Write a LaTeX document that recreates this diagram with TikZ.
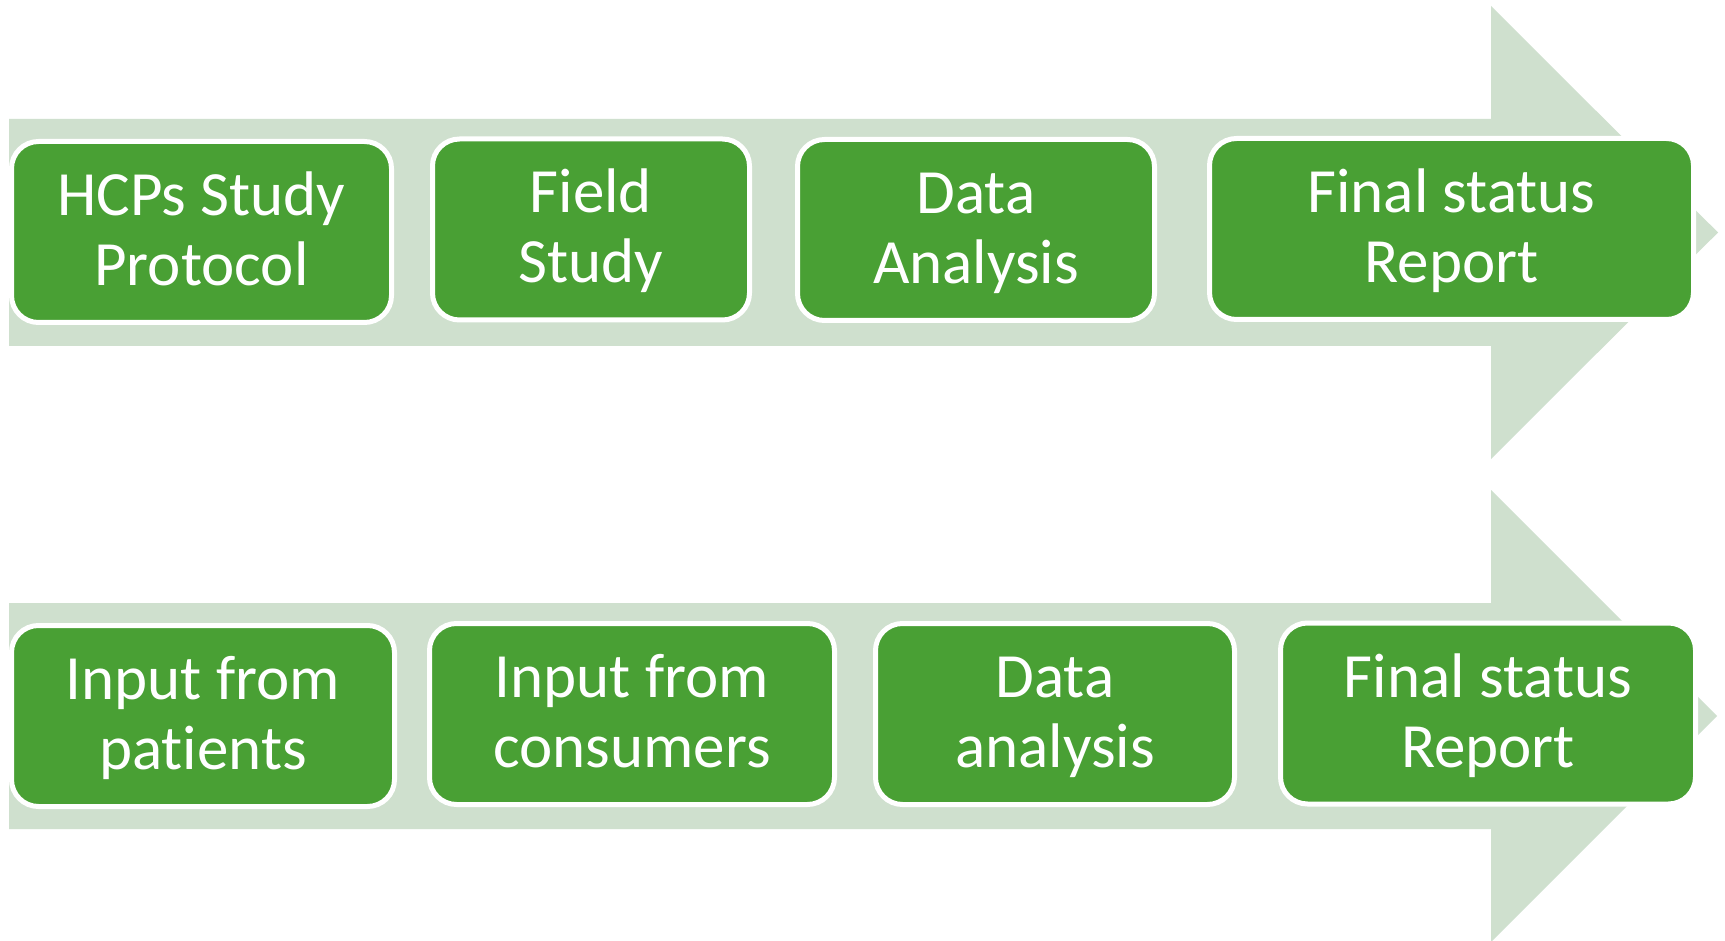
\documentclass[tikz,border=0pt]{standalone}
\usepackage{fontspec}
\setmainfont{Carlito}[Ligatures=NoCommon,RawFeature={-liga;-clig;-dlig}]
\definecolor{boxgreen}{RGB}{73,160,52}
\definecolor{bandgreen}{RGB}{207,224,206}
\newcommand\twoline[2]{\rule{0pt}{55pt}#1\\#2\rule[-18pt]{0pt}{18pt}}
\tikzset{
  stepbox/.style={draw=white, line width=5pt, fill=boxgreen, rounded corners=27pt,
    text=white, font=\fontsize{63}{70}\selectfont, align=center, inner sep=0pt,
    minimum height=181pt},
  band/.style={fill=bandgreen, draw=none}
}
\begin{document}
\begin{tikzpicture}[x=1pt,y=-1pt]
\useasboundingbox (0,0) rectangle (1725,941);
\fill[white] (0,0) rectangle (1725,941);
% background arrows
\path[band] (9,119) -- (1491,119) -- (1491,6) -- (1718,232.5) -- (1491,459) -- (1491,346) -- (9,346) -- cycle;
\path[band] (9,603) -- (1491,603) -- (1491,490) -- (1717,716) -- (1491,942) -- (1491,829) -- (9,829) -- cycle;
% top row
\node[stepbox, minimum width=380pt] (t1) at (201.5,232) {\twoline{HCPs Study}{Protocol}};
\node[stepbox, minimum width=317pt] (t2) at (591,229.5) {\twoline{Field}{Study}};
\node[stepbox, minimum width=357pt] (t3) at (976,230) {\twoline{Data}{Analysis}};
\node[stepbox, minimum width=484pt] (t4) at (1451.5,229) {\twoline{Final status}{Report}};
% bottom row
\node[stepbox, minimum width=383pt] (b1) at (203,716) {\twoline{Input from}{pat\kern0pt ients}};
\node[stepbox, minimum width=405pt] (b2) at (632,714) {\twoline{Input from}{consumers}};
\node[stepbox, minimum width=359pt] (b3) at (1055,714) {\twoline{Data}{analysis}};
\node[stepbox, minimum width=415pt] (b4) at (1488,713.5) {\twoline{Final status}{Report}};
\end{tikzpicture}
\end{document}
